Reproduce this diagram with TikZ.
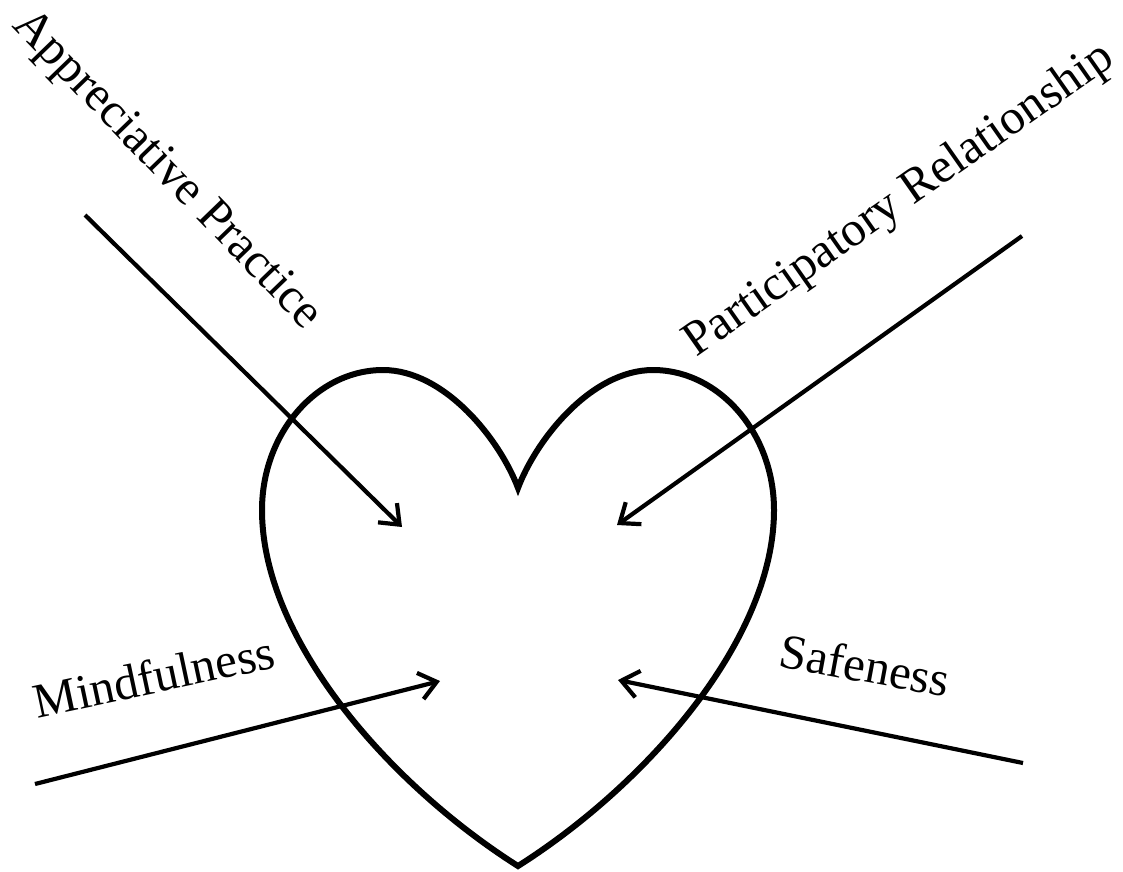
\documentclass[tikz,border=0pt]{standalone}
\usepackage{fontspec}
\setmainfont{Liberation Serif}
\usetikzlibrary{arrows.meta}
\begin{document}
\begin{tikzpicture}[x=1pt,y=-1pt,
  heartline/.style={line width=6pt, line join=miter},
  inarrow/.style={line width=4.2pt, -{Straight Barb[length=17pt,width=27pt]}},
  lab/.style={inner sep=0pt, font=\fontsize{49}{59}\selectfont}]
  \useasboundingbox (0,0) rectangle (1123,871);

  % heart outline, symmetric about x = 518
  \begin{scope}[shift={(518,0)}]
    \draw[heartline]
      (0,488) .. controls (-18,440) and (-73,370) .. (-135,370)
              .. controls (-201,370) and (-256,433) .. (-256,510)
              .. controls (-256,640) and (-128,785) .. (0,866)
              .. controls (128,785) and (256,640) .. (256,510)
              .. controls (256,433) and (201,370) .. (135,370)
              .. controls (73,370) and (18,440) .. (0,488) -- cycle;
  \end{scope}

  % arrow end points
  \coordinate (apS) at (85,215);
  \coordinate (apE) at (402,527);
  \coordinate (prS) at (1022,236);
  \coordinate (prE) at (617,525);
  \coordinate (mfS) at (35,784);
  \coordinate (mfE) at (440,681);
  \coordinate (sfS) at (1023,763);
  \coordinate (sfE) at (618,680);

  \draw[inarrow] (apS) -- (apE);
  \draw[inarrow] (prS) -- (prE);
  \draw[inarrow] (mfS) -- (mfE);
  \draw[inarrow] (sfS) -- (sfE);

  % labels
  \node[lab, rotate=-46] (ap) at (166,171) {Appreciative Practice};
  \node[lab, rotate=35] (pr) at (900,201) {Participatory Relationship};
  \node[lab, rotate=12] (mf) at (154,676) {Mindfulness};
  \node[lab, rotate=-10.5] (sf) at (865,665) {Safeness};
\end{tikzpicture}
\end{document}
